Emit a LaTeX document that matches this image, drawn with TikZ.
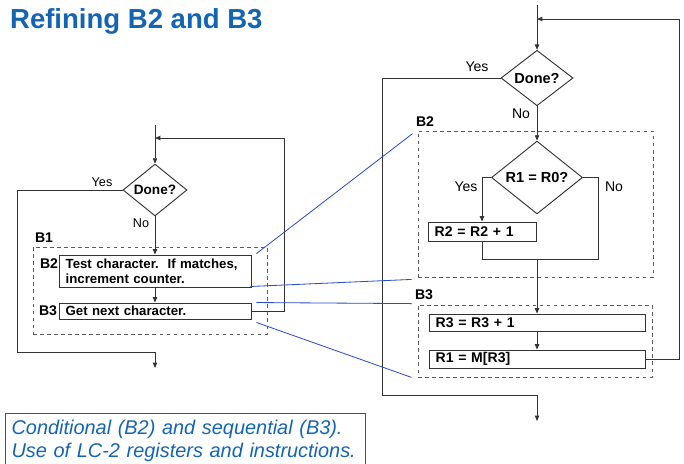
\documentclass[tikz,border=0pt]{standalone}
\usepackage{fontspec}
\setmainfont{Liberation Sans}
\usetikzlibrary{arrows.meta,shapes.geometric}

\definecolor{titleblue}{HTML}{1464B4}
\definecolor{linkblue}{HTML}{2A4CC4}
\definecolor{flowgray}{HTML}{333333}
\definecolor{dashgray}{HTML}{5A5A5A}

\begin{document}
\begin{tikzpicture}[
  x=0.03cm,
  y=-0.03cm,
  >=Latex,
  font=\fontsize{10.5}{12.5}\selectfont,
  line/.style={draw=flowgray,line width=0.8pt},
  arrow/.style={line,-{Triangle[length=1.6mm,width=1.3mm]}},
  link/.style={draw=linkblue,line width=0.7pt},
  stepbox/.style={line,fill=white,align=left,inner xsep=0.2cm,inner ysep=0pt,font=\bfseries\fontsize{11.3}{13.2}\selectfont},
  decision/.style={line,diamond,inner sep=0pt,font=\bfseries\fontsize{11.6}{13}\selectfont},
  blockframe/.style={draw=dashgray,dashed,line width=0.7pt,inner sep=0pt},
  blocktag/.style={font=\bfseries\fontsize{12}{14}\selectfont},
  tag/.style={font=\fontsize{10.8}{12.5}\selectfont}
]
\useasboundingbox (0,0) rectangle (684,463);

% Title
\node[anchor=base west,text=titleblue,font=\bfseries\fontsize{23.5}{26}\selectfont] (title) at (6,28) {Refining B2 and B3};

% ---------------- Left flowchart ----------------
\node[blockframe,minimum width=7.02cm,minimum height=2.61cm] (lb1box) at (150,290.5) {};
\node[blocktag] (lb1tag) at (44,238) {B1};

\coordinate (lin) at (155,125);
\node[decision,minimum width=1.92cm,minimum height=1.38cm] (ldone) at (155,190) {Done?};
\node[stepbox,text width=5.36cm,minimum height=0.96cm] (lb2) at (155,271)
  {\mbox{Test character.\ \ If matches,}\\\mbox{increment counter.}};
\node[stepbox,text width=5.36cm,minimum height=0.48cm] (lb3) at (155,311) {Get next character.};
\node[blocktag] (lb2tag) at (49,263.5) {B2};
\node[blocktag] (lb3tag) at (48,311) {B3};

\node[tag] (lyestag) at (102,182) {Yes};
\node[tag] (lnotag) at (141,223) {No};

\coordinate (lret) at (284,138);
\coordinate (ljoin) at (155,138);
\coordinate (lcorner) at (17,352);
\coordinate (lbend) at (155,352);
\coordinate (lout) at (155,368);

\draw[arrow] (lin) -- (ldone);
\draw[arrow] (lb3.east) -| (lret) -- (ljoin);
\draw[arrow] (ldone.south) -- (lb2.north);
\draw[arrow] (lb2.south) -- (lb3.north);
\draw[arrow] (ldone.west) -| (lcorner) -- (lbend) -- (lout);

% ---------------- Right flowchart ----------------
\node[blockframe,minimum width=7.05cm,minimum height=4.38cm] (rb2box) at (535.5,204) {};
\node[blockframe,minimum width=7.02cm,minimum height=2.16cm] (rb3box) at (535,341) {};
\node[blocktag] (rb2tag) at (425,122) {B2};
\node[blocktag] (rb3tag) at (424,295) {B3};

\coordinate (rin) at (537,5);
\node[decision,minimum width=2.16cm,minimum height=1.56cm,font=\bfseries\fontsize{12.4}{14}\selectfont] (rdone) at (537,78) {Done?};
\node[decision,minimum width=2.73cm,minimum height=1.65cm,font=\bfseries\fontsize{12.4}{14}\selectfont] (rtest) at (537,177.5) {R1 = R0?};
\node[stepbox,text width=2.84cm,minimum height=0.57cm,inner xsep=0.2cm,font=\bfseries\fontsize{12}{14}\selectfont] (rr2) at (482,231.5) {R2 = R2 + 1};
\node[stepbox,text width=6.08cm,minimum height=0.51cm,font=\bfseries\fontsize{12}{14}\selectfont] (rr3) at (537,322.5) {R3 = R3 + 1};
\node[stepbox,text width=6.08cm,minimum height=0.54cm,font=\bfseries\fontsize{12}{14}\selectfont] (rr1) at (537,359) {R1 = M[R3]};

\node[tag,font=\fontsize{12}{14}\selectfont] (ryestag) at (477,67) {Yes};
\node[tag,font=\fontsize{12}{14}\selectfont] (rnotag) at (521,114) {No};
\node[tag,font=\fontsize{12}{14}\selectfont] (tyestag) at (466,187) {Yes};
\node[tag,font=\fontsize{12}{14}\selectfont] (tnotag) at (614,187) {No};

\coordinate (rret) at (679,19);
\coordinate (rjoin) at (537,19);
\coordinate (rcorner) at (382,395);
\coordinate (rbend) at (537,395);
\coordinate (rout) at (537,421);
\coordinate (rnoc) at (598,259);
\coordinate (rmerge) at (537,259);

\draw[arrow] (rin) -- (rdone);
\draw[arrow] (rr1.east) -| (rret) -- (rjoin);
\draw[arrow] (rdone.south) -- (rtest.north);
\draw[arrow] (rtest.west) -| (rr2.north);
\draw[line] (rtest.east) -| (rnoc) -- (rmerge);
\draw[line] (rr2.south) |- (rmerge);
\draw[arrow] (rmerge) -- (rr3.north);
\draw[arrow] (rr3.south) -- (rr1.north);
\draw[arrow] (rdone.west) -| (rcorner) -- (rbend) -- (rout);

% Blue links between the two charts
\draw[link] ([shift={(5,-1)}]lb2.north east) -- ([shift={(-5,3)}]rb2box.north west);
\draw[link] ([shift={(-1,-1)}]lb2.south east) -- ([shift={(-6,2)}]rb2box.south west);
\draw[link] ([shift={(5,0)}]lb3.north east) -- ([shift={(-6,-1)}]rb3box.north west);
\draw[link] ([shift={(5,3)}]lb3.south east) -- ([shift={(-6,0)}]rb3box.south west);

% Caption (frame runs past the bottom edge)
\node[anchor=north west,text width=10.42cm,align=left,
  inner xsep=0.19cm,inner ysep=0.2cm,text=titleblue,
  font=\itshape\fontsize{17}{20}\selectfont] (caption) at (5,413)
  {Conditional (B2) and sequential (B3).\\Use of LC-2 registers and instructions.};
\draw[draw=linkblue,line width=0.7pt] (caption.north west) rectangle ([yshift=-0.5cm]caption.south east);

\end{tikzpicture}
\end{document}
